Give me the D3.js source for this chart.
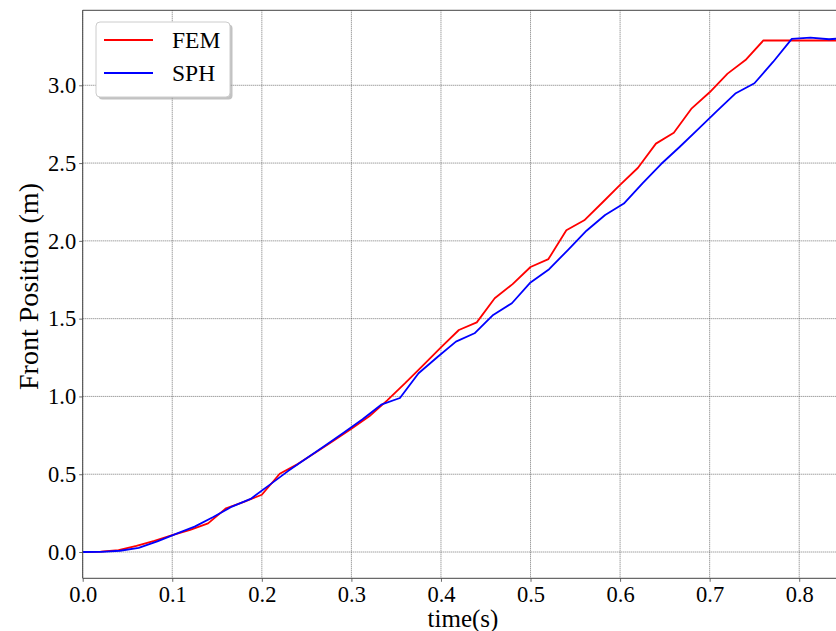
<html>
<head>
  <title>Front position</title>
  <script src="https://d3js.org/d3.v7.min.js"></script>
  <style>
    body { margin: 0; background: #fff; }
    text { font-family: "Liberation Serif", "DejaVu Serif", serif; fill: #000; }
  </style>
</head>
<body>
<div class="chart"></div>
<script>
// FEM sampled every 0.02 s
var femTime = [0, 0.02, 0.04, 0.06, 0.08, 0.10, 0.12, 0.14, 0.16, 0.18, 0.20, 0.22, 0.24, 0.26, 0.28,
  0.30, 0.32, 0.34, 0.36, 0.38, 0.40, 0.42, 0.44, 0.46, 0.48, 0.50, 0.52, 0.54, 0.56, 0.58,
  0.60, 0.62, 0.64, 0.66, 0.68, 0.70, 0.72, 0.74, 0.76, 0.78, 0.80, 0.82, 0.84, 0.86];
var femFront = [0, 0.002, 0.012, 0.04, 0.072, 0.109, 0.142, 0.184, 0.281, 0.322, 0.368, 0.503, 0.565, 0.64, 0.715,
  0.793, 0.872, 0.975, 1.085, 1.2, 1.315, 1.427, 1.476, 1.631, 1.722, 1.832, 1.883, 2.068, 2.132, 2.245,
  2.36, 2.47, 2.625, 2.695, 2.852, 2.955, 3.075, 3.162, 3.288, 3.288, 3.288, 3.288, 3.288, 3.288];

// SPH sampled every 1/48 s
var sphTime = [0, 0.0208, 0.0417, 0.0625, 0.0833, 0.1042, 0.125, 0.1458, 0.1667, 0.1875, 0.2083, 0.2292, 0.25, 0.2708,
  0.2917, 0.3125, 0.3333, 0.3542, 0.375, 0.3958, 0.4167, 0.4375, 0.4583, 0.4792, 0.5, 0.5208, 0.5417, 0.5625,
  0.5833, 0.6042, 0.625, 0.6458, 0.6667, 0.6875, 0.7083, 0.7292, 0.75, 0.7708, 0.7917, 0.8125, 0.8333, 0.8542];
var sphFront = [0, 0.001, 0.008, 0.026, 0.068, 0.117, 0.163, 0.225, 0.292, 0.341, 0.43, 0.52, 0.603, 0.685,
  0.768, 0.853, 0.947, 0.99, 1.149, 1.252, 1.352, 1.406, 1.524, 1.599, 1.733, 1.818, 1.941, 2.065,
  2.166, 2.24, 2.37, 2.494, 2.605, 2.72, 2.835, 2.949, 3.013, 3.15, 3.298, 3.306, 3.296, 3.304];

var xTicks = [0, 0.1, 0.2, 0.3, 0.4, 0.5, 0.6, 0.7, 0.8];
var yTicks = [0, 0.5, 1.0, 1.5, 2.0, 2.5, 3.0];

var width = 836,
    height = 631;

// plot box (right edge lies past the picture)
var pLeft = 82.7, pTop = 10.3, pRight = 844, pBottom = 578.3;

var svg = d3.select(".chart")
  .append("svg")
  .attr("width", width)
  .attr("height", height);

var x = d3.scaleLinear().domain([0, 0.85]).range([pLeft, pRight]);
var y = d3.scaleLinear().domain([-0.169, 3.482]).range([pBottom, pTop]);

svg.append("clipPath").attr("id", "plot")
  .append("rect")
  .attr("x", pLeft).attr("y", pTop)
  .attr("width", pRight - pLeft).attr("height", pBottom - pTop);

// grid
svg.append("g")
  .selectAll("line")
  .data(xTicks)
  .enter()
  .append("line")
  .attr("x1", function (d) { return x(d); })
  .attr("x2", function (d) { return x(d); })
  .attr("y1", pTop).attr("y2", pBottom)
  .style("stroke", "#555")
  .style("stroke-width", 0.8)
  .style("stroke-dasharray", "1,1");

svg.append("g")
  .selectAll("line")
  .data(yTicks)
  .enter()
  .append("line")
  .attr("x1", pLeft).attr("x2", pRight)
  .attr("y1", function (d) { return y(d); })
  .attr("y2", function (d) { return y(d); })
  .style("stroke", "#555")
  .style("stroke-width", 0.8)
  .style("stroke-dasharray", "1,1");

// lines
var line = d3.line()
  .x(function (d) { return x(d[0]); })
  .y(function (d) { return y(d[1]); });

var series = [
  { name: "FEM", color: "#ff0000", pts: d3.zip(femTime, femFront) },
  { name: "SPH", color: "#0000ff", pts: d3.zip(sphTime, sphFront) }
];

svg.append("g")
  .attr("clip-path", "url(#plot)")
  .selectAll("path")
  .data(series)
  .enter()
  .append("path")
  .attr("d", function (d) { return line(d.pts); })
  .style("fill", "none")
  .style("stroke", function (d) { return d.color; })
  .style("stroke-width", 1.8)
  .style("stroke-linejoin", "round");

// axes
var xAxis = svg.append("g")
  .attr("transform", "translate(0," + pBottom + ")")
  .call(d3.axisBottom(x).tickValues(xTicks).tickFormat(d3.format(".1f")).tickSize(3.5).tickPadding(4));

var yAxis = svg.append("g")
  .attr("transform", "translate(" + pLeft + ",0)")
  .call(d3.axisLeft(y).tickValues(yTicks).tickFormat(d3.format(".1f")).tickSize(3.5).tickPadding(3));

[xAxis, yAxis].forEach(function (a) {
  a.select(".domain").remove();
  a.selectAll(".tick line").style("stroke", "#444").style("stroke-width", 0.8);
  a.selectAll(".tick text")
    .style("font-family", '"Liberation Serif", serif')
    .style("font-size", "22.5px")
    .style("fill", "#000");
});

// spines (left, bottom, top; right one is off screen)
svg.append("path")
  .attr("d", "M" + pRight + "," + pTop + "H" + pLeft + "V" + pBottom + "H" + pRight)
  .style("fill", "none")
  .style("stroke", "#444")
  .style("stroke-width", 1);

svg.append("text")
  .attr("x", 463)
  .attr("y", 627)
  .attr("text-anchor", "middle")
  .style("font-size", "25px")
  .text("time(s)");

svg.append("text")
  .attr("transform", "translate(38," + 286.5 + ") rotate(-90)")
  .attr("text-anchor", "middle")
  .style("font-size", "28px")
  .text("Front Position (m)");

// legend
var lg = svg.append("g");
lg.append("rect")
  .attr("x", 98.5).attr("y", 24.5)
  .attr("width", 134).attr("height", 75)
  .attr("rx", 4)
  .style("fill", "#999")
  .style("opacity", 0.6);
lg.append("rect")
  .attr("x", 96).attr("y", 22)
  .attr("width", 134).attr("height", 75)
  .attr("rx", 4)
  .style("fill", "#fff")
  .style("stroke", "#ccc")
  .style("stroke-width", 1);

var items = lg.selectAll(".item")
  .data(series)
  .enter()
  .append("g")
  .attr("transform", function (d, i) { return "translate(0," + (40 + i * 33) + ")"; });

items.append("line")
  .attr("x1", 104).attr("x2", 153)
  .attr("y1", 0).attr("y2", 0)
  .style("stroke", function (d) { return d.color; })
  .style("stroke-width", 1.8);

items.append("text")
  .attr("x", 172)
  .attr("y", 8)
  .style("font-size", "23.5px")
  .text(function (d) { return d.name; });
</script>
</body>
</html>
